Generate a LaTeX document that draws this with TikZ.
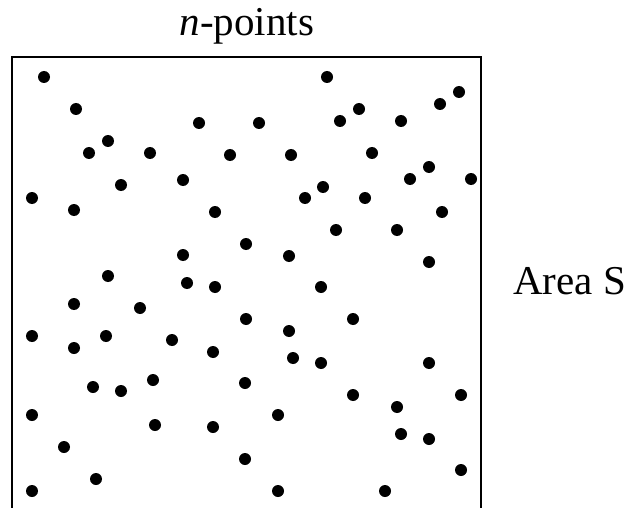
\documentclass[tikz,border=0pt]{standalone}
\usepackage{fontspec}
\setmainfont{Liberation Serif}
\usepackage{xcolor}
\definecolor{inkblack}{RGB}{0,0,0}

\begin{document}
\begin{tikzpicture}[x=1pt,y=-1pt,
    dotpt/.style={fill=inkblack},
    labeltext/.style={text=inkblack,font=\fontsize{41}{41}\selectfont,inner sep=0pt}]
        \useasboundingbox (0,0) rectangle (629,508);
        % open-bottomed region
        \draw[inkblack,line width=1.8pt]
              (12,508) -- (12,57) -- (481,57) -- (481,508);
        \node[labeltext,anchor=base] (title) at (247,36) {\textit{n}-points};
        \node[labeltext,anchor=base west] (area) at (513,294) {Area S};
        % the scattered points
        \foreach \px/\py in {44/77, 327/77, 76/109, 359/109, 440/104, 459/92,
              199/123, 259/123, 340/121, 401/121, 108/141, 89/153, 150/153,
              230/155, 291/155, 372/153, 429/167, 410/179, 471/179,
              121/185, 183/180, 323/187, 305/198, 365/198, 32/198, 74/210,
              215/212, 442/212, 336/230, 397/230, 246/244, 183/255, 289/256,
              429/262, 108/276, 187/283, 215/287, 321/287, 74/304, 140/308,
              246/319, 353/319, 32/336, 106/336, 172/340, 289/331, 74/348,
              213/352, 293/358, 321/363, 429/363, 93/387, 121/391, 153/380,
              245/383, 353/395, 461/395, 397/407, 32/415, 278/415, 155/425,
              213/427, 401/434, 429/439, 64/447, 245/459, 461/470, 96/479,
              32/491, 278/491, 385/491}
          \fill[dotpt] (\px,\py) circle (6);
      \end{tikzpicture}
\end{document}
